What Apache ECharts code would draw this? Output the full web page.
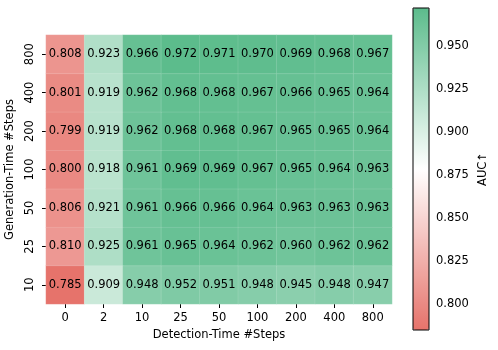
<!DOCTYPE html>
<html>
<head>
<meta charset="utf-8">
<script src="https://cdn.jsdelivr.net/npm/echarts@6/dist/echarts.min.js"></script>
<style>
  html, body { margin: 0; padding: 0; background: #fff; }
  #chart { width: 498px; height: 350px; }
</style>
</head>
<body>
<div id="chart"></div>
<script>
// axis categories
const detectionSteps = ['0', '2', '10', '25', '50', '100', '200', '400', '800'];
const generationSteps = ['10', '25', '50', '100', '200', '400', '800']; // bottom -> top

// AUC per generation-time row (columns follow detectionSteps)
const auc10 = [0.785, 0.909, 0.948, 0.952, 0.951, 0.948, 0.945, 0.948, 0.947];
const auc25 = [0.810, 0.925, 0.961, 0.965, 0.964, 0.962, 0.960, 0.962, 0.962];
const auc50 = [0.806, 0.921, 0.961, 0.966, 0.966, 0.964, 0.963, 0.963, 0.963];
const auc100 = [0.800, 0.918, 0.961, 0.969, 0.969, 0.967, 0.965, 0.964, 0.963];
const auc200 = [0.799, 0.919, 0.962, 0.968, 0.968, 0.967, 0.965, 0.965, 0.964];
const auc400 = [0.801, 0.919, 0.962, 0.968, 0.968, 0.967, 0.966, 0.965, 0.964];
const auc800 = [0.808, 0.923, 0.966, 0.972, 0.971, 0.970, 0.969, 0.968, 0.967];

const colorbarTicks = [0.800, 0.825, 0.850, 0.875, 0.900, 0.925, 0.950];

const rows = [auc10, auc25, auc50, auc100, auc200, auc400, auc800];
const cells = [];
rows.forEach((row, y) => row.forEach((v, x) => cells.push([x, y, v])));
const allValues = cells.map(c => c[2]);
const vMin = Math.min(...allValues);
const vMax = Math.max(...allValues);

const font = 'DejaVu Sans';
const chart = echarts.init(document.getElementById('chart'), null, { renderer: 'canvas' });

chart.setOption({
  animation: false,
  textStyle: { fontFamily: font, color: '#000' },
  grid: [
    { left: 46, top: 35, width: 346, height: 269, outerBoundsMode: 'none' },
    { left: 413, top: 8, width: 16, height: 322, outerBoundsMode: 'none', show: true, borderColor: '#000', borderWidth: 1, backgroundColor: 'transparent', z: 10 },
  ],
  xAxis: [
    {
      type: 'category',
      data: detectionSteps,
      gridIndex: 0,
      name: 'Detection-Time #Steps',
      nameLocation: 'middle',
      nameGap: 24,
      nameTextStyle: { fontSize: 11.5, color: '#000' },
      axisLine: { show: false },
      axisTick: { show: true, alignWithLabel: true, length: 4, lineStyle: { color: '#000' } },
      axisLabel: { fontSize: 11.5, color: '#000', margin: 8 },
      splitArea: { show: false },
    },
    { type: 'value', gridIndex: 1, show: false, min: 0, max: 1 },
  ],
  yAxis: [
    {
      type: 'category',
      data: generationSteps,
      gridIndex: 0,
      name: 'Generation-Time #Steps',
      nameLocation: 'middle',
      nameRotate: 90,
      nameGap: 27,
      nameTextStyle: { fontSize: 11.5, color: '#000' },
      axisLine: { show: false },
      axisTick: { show: true, alignWithLabel: true, length: 4, lineStyle: { color: '#000' } },
      axisLabel: { fontSize: 11.5, color: '#000', rotate: 90, margin: 10 },
      splitArea: { show: false },
    },
    {
      type: 'value',
      gridIndex: 1,
      position: 'right',
      min: vMin,
      max: vMax,
      name: 'AUC\u2191',
      nameLocation: 'middle',
      nameRotate: 90,
      nameGap: 48,
      nameTextStyle: { fontSize: 11.5, color: '#000' },
      axisLine: { show: false },
      splitLine: { show: false },
      axisTick: { show: true, length: 4, customValues: colorbarTicks, lineStyle: { color: '#000' } },
      axisLabel: {
        fontSize: 11.5,
        color: '#000',
        margin: 7,
        customValues: colorbarTicks,
        formatter: v => v.toFixed(3),
      },
    },
  ],
  visualMap: {
    type: 'continuous',
    seriesIndex: 0,
    min: vMin,
    max: vMax,
    calculable: false,
    orient: 'vertical',
    left: 413,
    top: 8,
    padding: 0,
    itemWidth: 16,
    itemHeight: 322,
    text: null,
    showLabel: false,
    hoverLink: false,
    inRange: { color: ['#e6736b', '#ffffff', '#5cbc8c'] },
  },
  series: [
    {
      type: 'heatmap',
      xAxisIndex: 0,
      yAxisIndex: 0,
      data: cells,
      itemStyle: { borderColor: 'rgba(255,255,255,0.12)', borderWidth: 1 },
      label: {
        show: true,
        color: '#000',
        fontSize: 11.5,
        fontFamily: font,
        formatter: p => p.value[2].toFixed(3),
      },
      emphasis: { disabled: true },
    },
  ],
});
</script>
</body>
</html>
